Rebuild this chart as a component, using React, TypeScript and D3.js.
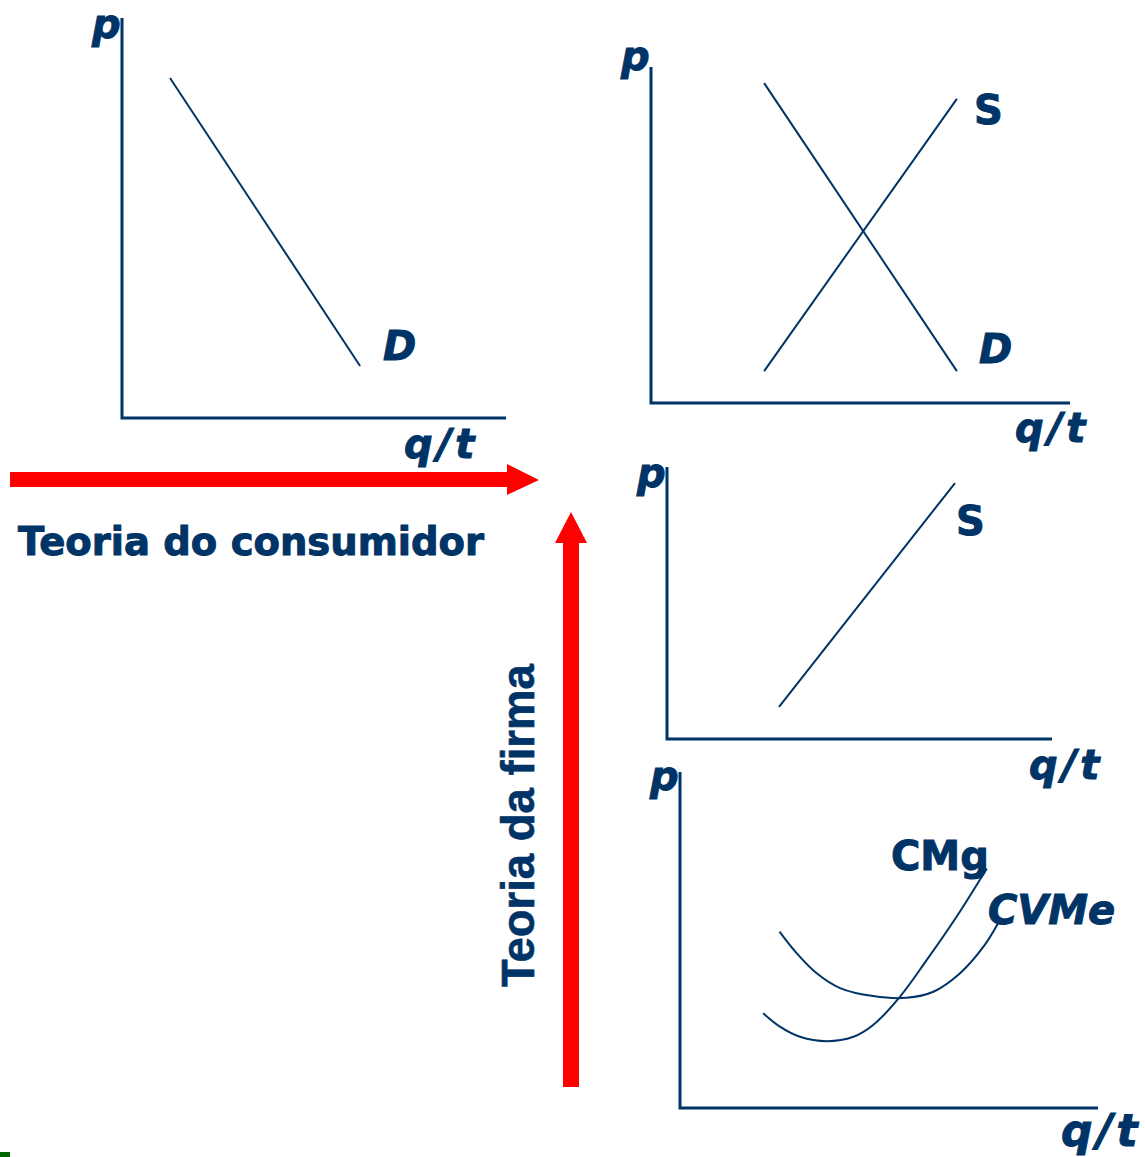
import React from 'react';
import * as d3 from 'd3';

const W = 1145;
const H = 1157;
const NAVY = '#003366';
const RED = '#ff0000';

// curves, in abstract (q, p) units from 0 to 100 on each panel
const demandConsumer = [[12.5, 85], [62, 13]];
const demandMarket = [[27, 95.2], [73, 9.5]];
const supplyMarket = [[27, 9.5], [73, 90.5]];
const supplyFirm = [[29.1, 11.8], [74.8, 94.1]];
const cmg = [
  [19.9, 28.2], [23.9, 24.2], [28.7, 21.2], [35.1, 19.9], [41.5, 21.2],
  [46.2, 24.7], [52.6, 33.1], [59.0, 44.0], [66.2, 57.0], [73.4, 71.3],
];
const cvme = [
  [23.8, 52.5], [27.9, 46.1], [32.7, 40.1], [38.3, 35.7], [46.2, 33.3],
  [54.2, 32.8], [60.6, 34.6], [67.0, 40.1], [72.6, 48.0], [76.1, 55.0],
];

const panels = [
  { key: 'consumidor', x0: 122, x1: 506, y0: 418, y1: 18, curves: [demandConsumer],
    labels: [
      { t: 'p', x: 92, y: 38, it: true },
      { t: 'D', x: 383, y: 360, it: true },
      { t: 'q/t', x: 404, y: 458, it: true, q: true },
    ] },
  { key: 'mercado', x0: 651, x1: 1070, y0: 403, y1: 67, curves: [demandMarket, supplyMarket],
    labels: [
      { t: 'p', x: 621, y: 70, it: true },
      { t: 'S', x: 974, y: 124 },
      { t: 'D', x: 979, y: 363, it: true },
      { t: 'q/t', x: 1015, y: 442, it: true, q: true },
    ] },
  { key: 'oferta', x0: 667, x1: 1052, y0: 739, y1: 467, curves: [supplyFirm],
    labels: [
      { t: 'p', x: 637, y: 487, it: true },
      { t: 'S', x: 956, y: 535 },
      { t: 'q/t', x: 1029, y: 779, it: true, q: true },
    ] },
  { key: 'custos', x0: 680, x1: 1098, y0: 1108, y1: 772, curves: [cmg, cvme],
    labels: [
      { t: 'p', x: 650, y: 790, it: true },
      { t: 'CMg', x: 891, y: 870 },
      { t: 'CVMe', x: 988, y: 924, it: true },
      { t: 'q/t', x: 1061, y: 1146, it: true, q: true, big: true },
    ] },
];

const Panel = ({ p }: any) => {
  const x = d3.scaleLinear().domain([0, 100]).range([p.x0, p.x1]);
  const y = d3.scaleLinear().domain([0, 100]).range([p.y0, p.y1]);
  const line = d3.line<number[]>()
    .x(d => x(d[0]))
    .y(d => y(d[1]))
    .curve(d3.curveCatmullRom);
  return (
    <g className={p.key}>
      <path d={`M${x(0)},${y(100)}V${y(0)}H${x(100)}`} fill="none" stroke={NAVY} strokeWidth={3} />
      {p.curves.map((c: number[][], i: number) => (
        <path key={i} d={line(c) || ''} fill="none" stroke={NAVY} strokeWidth={2} />
      ))}
      {p.labels.map((l: any) => (
        <text key={l.t} x={l.x} y={l.y} fill={NAVY} stroke={NAVY} strokeWidth={1}
          fontFamily="'DejaVu Sans', Verdana, sans-serif" fontWeight="bold"
          fontStyle={l.it ? 'italic' : 'normal'} fontSize={l.big ? 44 : 40}
          letterSpacing={l.q ? 4 : 0}>
          {l.t}
        </text>
      ))}
    </g>
  );
};

export default function App() {
  return (
    <svg width={W} height={H} style={{ position: 'absolute', left: 0, top: 0 }}>
      <rect width={W} height={H} fill="#fff" />
      {panels.map(p => <Panel key={p.key} p={p} />)}
      {/* horizontal arrow */}
      <path d="M10,472H507V464L539,480L507,495V487H10Z" fill={RED} />
      <text x={18} y={555} fill={NAVY} stroke={NAVY} strokeWidth={1}
        fontFamily="'DejaVu Sans', Verdana, sans-serif"
        fontWeight="bold" fontSize={38.5}>Teoria do consumidor</text>
      {/* vertical arrow */}
      <path d="M563,1087V543H555L571,512L587,543H579V1087Z" fill={RED} />
      <text transform="translate(534,987) rotate(-90)" fill={NAVY} stroke={NAVY} strokeWidth={0.6}
        fontFamily="'Liberation Sans', Arial, sans-serif" fontWeight="bold" fontSize={45.5}>
        Teoria da firma
      </text>
      <rect x={0} y={1152} width={10} height={5} fill="#006600" />
    </svg>
  );
}
